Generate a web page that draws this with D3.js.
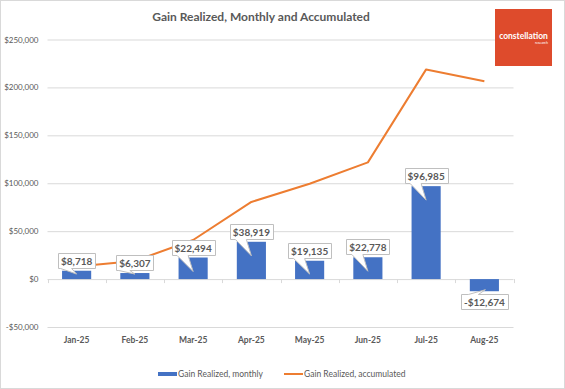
<!DOCTYPE html>
<html>
<head>
<meta charset="utf-8">
<script src="https://cdn.jsdelivr.net/npm/d3@7"></script>
<style>
  html, body { margin: 0; padding: 0; background: #fff; }
  svg { display: block; font-family: Lato, "Open Sans", sans-serif; }
</style>
</head>
<body>
<svg id="chart" width="565" height="389"></svg>
<script>
const months = ["Jan-25", "Feb-25", "Mar-25", "Apr-25", "May-25", "Jun-25", "Jul-25", "Aug-25"];
const monthly = [8718, 6307, 22494, 38919, 19135, 22778, 96985, -12674];
const accumulated = [13200, 18900, 40800, 80500, 99500, 121800, 218800, 206500];
const yTicks = [-50000, 0, 50000, 100000, 150000, 200000, 250000];
const titleText = "Gain Realized, Monthly and Accumulated";
const seriesNames = ["Gain Realized, monthly", "Gain Realized, accumulated"];

const svg = d3.select("#chart");
const W = 565, H = 389;
const plotL = 47.5, plotR = 513.5;
const gray = "#595959", gridC = "#d9d9d9";
const barC = "#4472C4", lineC = "#ED7D31";

svg.append("rect").attr("x", 0.5).attr("y", 0.5).attr("width", W - 1).attr("height", H - 1)
  .attr("fill", "#fff").attr("stroke", gridC);

const x = d3.scaleBand().domain(months).range([plotL, plotR]).paddingInner(0.5).paddingOuter(0.25);
const y = d3.scaleLinear().domain([-50000, 250000]).range([327, 39.5]);
const fmt = v => (v < 0 ? "-$" : "$") + d3.format(",")(Math.abs(v));

// title
svg.append("text").attr("x", 261).attr("y", 16).attr("text-anchor", "middle")
  .attr("dominant-baseline", "central").attr("font-weight", 700).attr("font-size", 12)
  .attr("fill", gray).text(titleText);

// gridlines + y axis
const yAxis = d3.axisLeft(y).tickValues(yTicks).tickSize(-(plotR - plotL)).tickPadding(9).tickFormat(fmt);
const gy = svg.append("g").attr("transform", `translate(${plotL},0)`).call(yAxis);
gy.select(".domain").remove();
gy.selectAll(".tick line").attr("stroke", gridC).attr("stroke-width", 1);
gy.selectAll(".tick text").attr("fill", gray).attr("font-size", 8).attr("font-family", "Lato, sans-serif");

// category ticks on the zero line
const bounds = d3.range(months.length + 1).map(i => plotL + i * x.step());
svg.append("g").selectAll("line").data(bounds).join("line")
  .attr("x1", d => Math.round(d) + 0.5).attr("x2", d => Math.round(d) + 0.5)
  .attr("y1", y(0)).attr("y2", y(0) + 4).attr("stroke", gridC);
const xAxis = d3.axisBottom(x).tickSize(0).tickPadding(0);
const gx = svg.append("g").attr("transform", `translate(0,340)`).call(xAxis);
gx.select(".domain").remove();
gx.selectAll(".tick text").attr("y", 0).attr("dy", null).attr("dominant-baseline", "central")
  .attr("font-size", 8.5).attr("font-weight", 700).attr("fill", gray).attr("font-family", "Lato, sans-serif");

// bars
svg.append("g").selectAll("rect").data(monthly).join("rect")
  .attr("x", (d, i) => x(months[i])).attr("width", x.bandwidth())
  .attr("y", d => y(Math.max(0, d))).attr("height", d => Math.abs(y(d) - y(0)))
  .attr("fill", barC);

// accumulated line
const line = d3.line().x((d, i) => x(months[i]) + x.bandwidth() / 2).y(d => y(d));
svg.append("path").datum(accumulated).attr("d", line).attr("fill", "none")
  .attr("stroke", lineC).attr("stroke-width", 2).attr("stroke-linejoin", "round");

// callout labels
const lg = svg.append("g");
monthly.forEach((v, i) => {
  const cx = x(months[i]) + x.bandwidth() / 2;
  const g = lg.append("g");
  const path = g.append("path").attr("fill", "#fff").attr("stroke", "#bfbfbf").attr("stroke-width", 1);
  const t = g.append("text").attr("text-anchor", "middle").attr("dominant-baseline", "central")
    .attr("font-size", 10).attr("font-weight", 700).attr("fill", gray).text(fmt(v));
  const tw = t.node().getComputedTextLength();
  const bw = Math.round(tw + 6), bh = 15;
  const x0 = Math.round(cx - bw / 2) + 0.5, x1 = x0 + bw;
  let d;
  if (v >= 0) {
    const yb = Math.round(y(v) - 3) + 0.5, yt = yb - bh;
    const tipY = Math.min(y(v) + 14, y(0) - 5);
    d = `M${x0},${yt}H${x1}V${yb}H${cx - 5}L${cx},${tipY}L${cx - 16},${yb}H${x0}Z`;
    t.attr("x", cx).attr("y", (yt + yb) / 2);
  } else {
    const yt = Math.round(y(v) + 3) + 0.5, yb = yt + bh;
    const tipY = y(v) - 1.5;
    d = `M${x0},${yt}H${cx - 16}L${cx + 1},${tipY}L${cx - 6},${yt}H${x1}V${yb}H${x0}Z`;
    t.attr("x", cx).attr("y", (yt + yb) / 2);
  }
  path.attr("d", d);
});

// legend
const leg = svg.append("g");
leg.append("rect").attr("x", 158).attr("y", 372).attr("width", 19).attr("height", 4).attr("fill", barC);
leg.append("text").attr("x", 178).attr("y", 374).attr("dominant-baseline", "central")
  .attr("font-size", 8.5).attr("fill", gray).text(seriesNames[0]);
leg.append("line").attr("x1", 284).attr("x2", 303).attr("y1", 374).attr("y2", 374)
  .attr("stroke", lineC).attr("stroke-width", 2);
leg.append("text").attr("x", 304).attr("y", 374).attr("dominant-baseline", "central")
  .attr("font-size", 8.5).attr("fill", gray).text(seriesNames[1]);

// logo
const logo = svg.append("g");
logo.append("rect").attr("x", 495).attr("y", 9).attr("width", 57).attr("height", 57).attr("fill", "#DE4B2C");
logo.append("text").attr("x", 523.5).attr("y", 36).attr("text-anchor", "middle")
  .attr("dominant-baseline", "central").attr("font-size", 8.5).attr("font-weight", 700)
  .attr("fill", "#fff").text("constellation");
logo.append("text").attr("x", 548).attr("y", 42.5).attr("text-anchor", "end")
  .attr("dominant-baseline", "central").attr("font-size", 3.5)
  .attr("fill", "#fff").text("research");
</script>
</body>
</html>
